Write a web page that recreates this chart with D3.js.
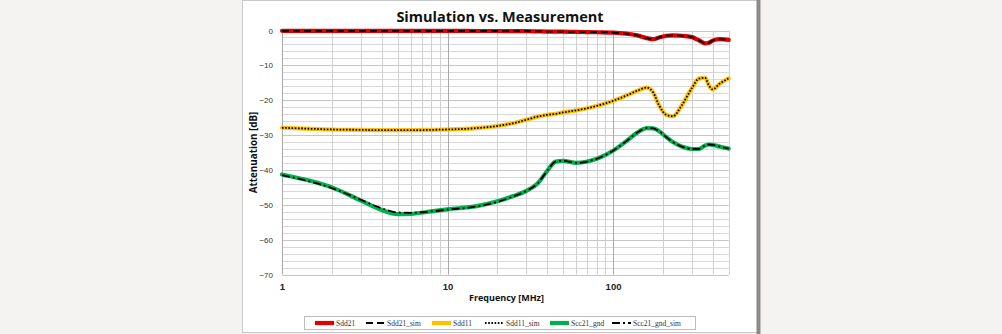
<!DOCTYPE html>
<html>
<head>
<meta charset="utf-8">
<script src="https://cdn.jsdelivr.net/npm/d3@7"></script>
<style>
  html, body { margin: 0; padding: 0; background: #f4f3f1; }
  svg { display: block; }
</style>
</head>
<body>
<svg id="chart" width="1002" height="334"></svg>
<script>
// Frequency points in MHz
const freqs = [1, 1.5, 2, 3, 4, 5, 6, 8, 10, 15, 20, 25, 30, 35, 40, 45, 50, 60, 70, 80,
               100, 120, 140, 160, 175, 190, 210, 230, 260, 300, 330, 360, 380, 400, 440, 500];

// Measured and simulated S-parameters in dB
const sdd21 = [-0.1, -0.1, -0.1, -0.1, -0.1, -0.1, -0.1, -0.1, -0.1, -0.15, -0.15, -0.2, -0.2, -0.25, -0.3, -0.3, -0.35, -0.4, -0.45, -0.5,
               -0.6, -0.9, -1.4, -2.2, -2.5, -2.0, -1.5, -1.4, -1.5, -1.9, -2.8, -3.7, -3.5, -2.9, -2.5, -2.7];
const sdd21Sim = [-0.1, -0.1, -0.1, -0.1, -0.1, -0.1, -0.1, -0.1, -0.1, -0.15, -0.15, -0.2, -0.2, -0.25, -0.3, -0.3, -0.35, -0.4, -0.45, -0.5,
               -0.6, -0.9, -1.4, -2.2, -2.5, -2.0, -1.5, -1.4, -1.5, -1.9, -2.8, -3.7, -3.5, -2.9, -2.5, -2.7];
const sdd11 = [-27.9, -28.2, -28.4, -28.5, -28.6, -28.6, -28.6, -28.5, -28.4, -28.0, -27.4, -26.6, -25.6, -24.7, -24.2, -23.9, -23.5, -22.9, -22.3, -21.6,
               -20.2, -18.7, -17.3, -16.4, -17.8, -21.5, -24.2, -24.6, -21.5, -16.5, -13.8, -13.6, -15.8, -16.9, -15.3, -13.7];
const sdd11Sim = [-27.9, -28.2, -28.4, -28.5, -28.6, -28.6, -28.6, -28.5, -28.4, -28.0, -27.4, -26.6, -25.6, -24.7, -24.2, -23.9, -23.5, -22.9, -22.3, -21.6,
               -20.2, -18.7, -17.3, -16.4, -17.8, -21.5, -24.2, -24.6, -21.5, -16.5, -13.8, -13.6, -15.8, -16.9, -15.3, -13.7];
const scc21 = [-41.3, -43.2, -45.0, -48.8, -51.5, -52.7, -52.6, -51.9, -51.3, -50.4, -49.0, -47.5, -46.0, -43.9, -40.3, -37.6, -37.4, -38.0, -37.6, -36.8,
               -34.5, -31.8, -29.3, -28.0, -28.1, -28.9, -30.6, -32.0, -33.3, -34.0, -34.0, -33.0, -32.7, -32.8, -33.3, -33.9];
const scc21Sim = [-41.5, -43.4, -45.2, -48.6, -51.0, -52.2, -52.3, -51.9, -51.4, -50.5, -49.2, -47.6, -46.0, -43.9, -40.3, -37.6, -37.4, -38.0, -37.6, -36.8,
               -34.5, -31.8, -29.3, -28.0, -28.1, -28.9, -30.6, -32.0, -33.3, -34.0, -34.0, -33.0, -32.7, -32.8, -33.3, -33.9];

// Axis ticks
const xTicks = [1, 10, 100];
const yTicks = [0, -10, -20, -30, -40, -50, -60, -70];
const seriesNames = ["Sdd21", "Sdd21_sim", "Sdd11", "Sdd11_sim", "Scc21_gnd", "Scc21_gnd_sim"];

const titleText = "Simulation vs. Measurement";
const xTitle = "Frequency [MHz]";
const yTitle = "Attenuation  [dB]";

// ---- styles ----
const styles = {
  "Sdd21":         { color: "#e00000", width: 4.2, dash: null },
  "Sdd21_sim":     { color: "#000000", width: 1.8, dash: "7,4" },
  "Sdd11":         { color: "#ffc000", width: 4.2, dash: null },
  "Sdd11_sim":     { color: "#000000", width: 1.8, dash: "1.6,1.6" },
  "Scc21_gnd":     { color: "#00b050", width: 4.2, dash: null },
  "Scc21_gnd_sim": { color: "#000000", width: 1.8, dash: "8,3,2,3" }
};
const seriesValues = {
  "Sdd21": sdd21, "Sdd21_sim": sdd21Sim,
  "Sdd11": sdd11, "Sdd11_sim": sdd11Sim,
  "Scc21_gnd": scc21, "Scc21_gnd_sim": scc21Sim
};

const svg = d3.select("#chart");

// chart panel
svg.append("rect").attr("x", 242.5).attr("y", 0.5).attr("width", 515).attr("height", 332)
  .attr("fill", "#ffffff").attr("stroke", "#c9c9c9").attr("stroke-width", 1);
svg.append("rect").attr("x", 756.5).attr("y", 0).attr("width", 4).attr("height", 334)
  .attr("fill", "#8a8a8a");

const x = d3.scaleLog().domain([1, 500]).range([282, 728.7]);
const y = d3.scaleLinear().domain([-70, 0]).range([274.5, 30.5]);

// grid
const grid = svg.append("g");
for (let v = -70; v <= 0; v += 2) {
  grid.append("line")
    .attr("x1", x(1)).attr("x2", x(500))
    .attr("y1", Math.round(y(v)) + 0.5).attr("y2", Math.round(y(v)) + 0.5)
    .attr("stroke", v % 10 === 0 ? "#c6c6c6" : "#d9d9d9").attr("stroke-width", 1);
}
const vLines = [];
[1, 10, 100].forEach(d => { for (let k = 1; k <= 9; k++) if (k * d <= 500) vLines.push(k * d); });
vLines.forEach(f => {
  const major = xTicks.includes(f);
  grid.append("line")
    .attr("x1", Math.round(x(f)) + 0.5).attr("x2", Math.round(x(f)) + 0.5)
    .attr("y1", y(0)).attr("y2", y(-70))
    .attr("stroke", major ? "#a9a9a9" : "#cfcfcf").attr("stroke-width", 1);
});

// axes
const yAxis = svg.append("g").attr("transform", `translate(${x(1)},0)`)
  .call(d3.axisLeft(y).tickValues(yTicks).tickSize(0).tickPadding(9).tickFormat(d3.format("d")));
yAxis.select(".domain").remove();
yAxis.selectAll("text").attr("font-family", "Liberation Sans, Arial, sans-serif")
  .attr("font-size", 8).attr("fill", "#333");

const xAxis = svg.append("g").attr("transform", `translate(0,${y(-70)})`)
  .call(d3.axisBottom(x).tickValues(xTicks).tickSize(0).tickPadding(9).tickFormat(d3.format("d")));
xAxis.select(".domain").remove();
xAxis.selectAll("text").attr("font-family", "Liberation Sans, Arial, sans-serif")
  .attr("font-size", 9.5).attr("font-weight", "bold").attr("fill", "#222");

// titles
svg.append("text").attr("x", 500).attr("y", 21.5).attr("text-anchor", "middle")
  .attr("font-family", "Open Sans, sans-serif").attr("font-weight", "bold")
  .attr("font-size", 14.5).attr("fill", "#111").text(titleText);
svg.append("text").attr("x", 506.5).attr("y", 300.5).attr("text-anchor", "middle")
  .attr("font-family", "Open Sans, sans-serif").attr("font-weight", "bold")
  .attr("font-size", 9).attr("fill", "#111").text(xTitle);
svg.append("text").attr("transform", `translate(257,${(y(0) + y(-70)) / 2}) rotate(-90)`)
  .attr("text-anchor", "middle")
  .attr("font-family", "Open Sans, sans-serif").attr("font-weight", "bold")
  .attr("font-size", 9.8).attr("fill", "#111").text(yTitle);

// series
const line = d3.line().x(d => x(d[0])).y(d => y(d[1])).curve(d3.curveMonotoneX);
const plot = svg.append("g");
seriesNames.forEach(name => {
  const s = styles[name];
  plot.append("path")
    .datum(freqs.map((f, i) => [f, seriesValues[name][i]]))
    .attr("d", line)
    .attr("fill", "none")
    .attr("stroke", s.color)
    .attr("stroke-width", s.width)
    .attr("stroke-linejoin", "round")
    .attr("stroke-linecap", s.dash ? "butt" : "round")
    .attr("stroke-dasharray", s.dash);
});

// legend
const legend = svg.append("g");
legend.append("rect").attr("x", 304.5).attr("y", 316.5).attr("width", 391).attr("height", 13)
  .attr("fill", "#fff").attr("stroke", "#bdbdbd");
const legendStarts = [315, 366, 432, 485, 550, 612];
seriesNames.forEach((name, i) => {
  const s = styles[name];
  const x0 = legendStarts[i];
  legend.append("line").attr("x1", x0).attr("x2", x0 + 19).attr("y1", 323).attr("y2", 323)
    .attr("stroke", s.color).attr("stroke-width", s.width)
    .attr("stroke-dasharray", s.dash);
  legend.append("text").attr("x", x0 + 21).attr("y", 325.5)
    .attr("font-family", "Liberation Serif, serif").attr("font-size", 7.5)
    .attr("fill", "#333").text(name);
});
</script>
</body>
</html>
